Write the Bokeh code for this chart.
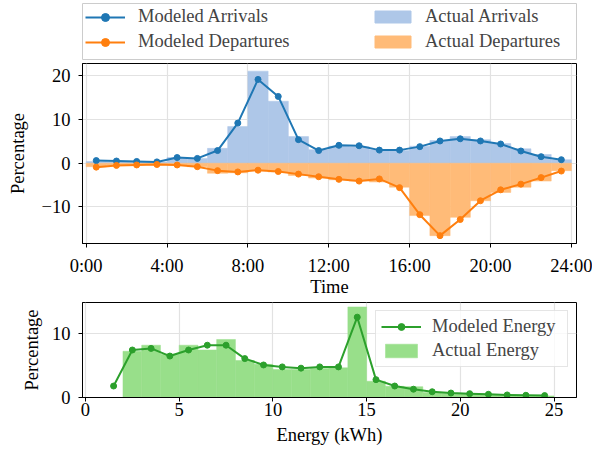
from bokeh.plotting import figure
from bokeh.models import Legend, LegendItem, FixedTicker, Range1d
from bokeh.layouts import column
from bokeh.embed import file_html
from bokeh.resources import INLINE

FONT = "Liberation Serif"
FS = "18.5px"
NAN = float("nan")

# ---------------- data ----------------
hour_mid = [0.5, 1.5, 2.5, 3.5, 4.5, 5.5, 6.5, 7.5, 8.5, 9.5, 10.5, 11.5,
            12.5, 13.5, 14.5, 15.5, 16.5, 17.5, 18.5, 19.5, 20.5, 21.5, 22.5, 23.5]
arr_model = [0.6, 0.5, 0.4, 0.3, 1.3, 1.1, 2.9, 9.2, 19.2, 15.3, 5.4, 2.9,
             4.1, 4.0, 3.0, 3.0, 3.8, 5.1, 5.6, 5.1, 4.4, 2.8, 1.5, 0.8]
dep_model = [-0.9, -0.5, -0.4, -0.3, -0.4, -0.8, -1.7, -2.0, -1.6, -1.9, -2.5, -3.1,
             -3.7, -4.1, -3.6, -5.6, -11.8, -16.6, -12.9, -8.6, -6.1, -4.8, -3.3, -1.8]
arr_actual = [0.4, 0.3, 0.3, 0.3, 1.3, 1.1, 3.4, 8.4, 21.1, 14.2, 6.1, 3.1,
              3.9, 3.8, 3.1, 2.9, 3.9, 5.2, 6.1, 5.4, 4.5, 3.3, 2.0, 0.8]
dep_actual = [-0.8, -0.5, -0.4, -0.4, -0.5, -0.8, -2.3, -2.2, -1.7, -2.0, -2.8, -3.4,
              -3.8, -4.1, -4.3, -5.5, -12.0, -16.6, -12.4, -8.6, -6.7, -5.5, -4.1, -1.7]
time_ticks = [0, 4, 8, 12, 16, 20, 24]
time_labels = ["0:00", "4:00", "8:00", "12:00", "16:00", "20:00", "24:00"]
pct_ticks_top = [-10, 0, 10, 20]
pct_labels_top = ["\u221210", "0", "10", "20"]

energy_model_x = [1.5, 2.5, 3.5, 4.5, 5.5, 6.5, 7.5, 8.5, 9.5, 10.5, 11.5, 12.5,
                  13.5, 14.5, 15.5, 16.5, 17.5, 18.5, 19.5, 20.5, 21.5, 22.5, 23.5, 24.5]
energy_model = [1.8, 7.45, 7.7, 6.5, 7.45, 8.2, 8.2, 6.1, 5.1, 4.8, 4.6, 4.8,
                4.8, 12.6, 2.8, 1.8, 1.3, 0.9, 0.7, 0.6, 0.5, 0.4, 0.35, 0.3]
energy_bin_mid = [2.5, 3.5, 4.5, 5.5, 6.5, 7.5, 8.5, 9.5, 10.5, 11.5, 12.5, 13.5,
                  14.5, 15.5, 16.5, 17.5, 18.5, 19.5, 20.5, 21.5, 22.5, 23.5, 24.5]
energy_actual = [7.25, 8.2, 6.8, 8.2, 7.45, 9.1, 5.8, 5.2, 4.4, 4.4, 4.55, 4.65,
                 14.2, 2.55, 1.75, 1.7, 0.8, 0.65, 0.55, 0.45, 0.35, 0.3, 0.25]
energy_ticks = [0, 5, 10, 15, 20, 25]
pct_ticks_bot = [0, 10]

C_ARR, C_DEP, C_EN = "#1f77b4", "#ff7f0e", "#2ca02c"
C_ARR_L, C_DEP_L, C_EN_L = "#aec7e8", "#ffbb78", "#98df8a"


def style(p):
    p.outline_line_color = "black"
    p.outline_line_width = 1
    p.background_fill_color = "white"
    p.border_fill_color = "white"
    for ax in p.axis:
        ax.major_label_text_font = FONT
        ax.major_label_text_font_size = FS
        ax.major_label_text_color = "black"
        ax.axis_label_text_font = FONT
        ax.axis_label_text_font_size = FS
        ax.axis_label_text_font_style = "normal"
        ax.axis_label_text_color = "black"
        ax.major_tick_out = 4
        ax.major_tick_in = 0
        ax.minor_tick_out = 0
        ax.minor_tick_in = 0
        ax.axis_line_color = "black"
        ax.major_tick_line_color = "black"
    p.grid.grid_line_color = "#e2e2e2"
    p.grid.grid_line_width = 1.2


# ---------------- legend strip ----------------
leg = figure(width=592, height=60, x_range=Range1d(0, 1), y_range=Range1d(0, 1),
             toolbar_location=None, output_backend="svg",
             x_axis_location=None, y_axis_location=None,
             min_border_left=82, min_border_right=15, min_border_top=3, min_border_bottom=1)
leg.grid.visible = False
leg.outline_line_color = "#cccccc"
leg.border_fill_color = "white"
# legend proxies (no drawable data, only their legend glyphs show)
px = [NAN]
py = [NAN]
pl_a = leg.line(px, py, color=C_ARR, line_width=2)
ps_a = leg.scatter(px, py, color=C_ARR, size=6)
pl_d = leg.line(px, py, color=C_DEP, line_width=2)
ps_d = leg.scatter(px, py, color=C_DEP, size=6)
pb_a = leg.vbar(x=px, top=py, width=1, color=C_ARR_L)
pb_d = leg.vbar(x=px, top=py, width=1, color=C_DEP_L)

common = dict(padding=0, margin=0, border_line_alpha=0, background_fill_alpha=0,
              label_text_font=FONT, label_text_font_size=FS, label_height=20, spacing=4)
l1 = Legend(items=[LegendItem(label="Modeled Arrivals", renderers=[pl_a, ps_a]),
                   LegendItem(label="Modeled Departures", renderers=[pl_d, ps_d])],
            location=(3, 7), glyph_width=40, glyph_height=20, label_standoff=13, **common)
l2 = Legend(items=[LegendItem(label="Actual Arrivals", renderers=[pb_a]),
                   LegendItem(label="Actual Departures", renderers=[pb_d])],
            location=(288, 7), glyph_width=45, glyph_height=15, label_standoff=10, **common)
leg.add_layout(l1)
leg.add_layout(l2)

# ---------------- top: arrivals / departures ----------------
top = figure(width=592, height=240, x_range=Range1d(-0.18, 24.25), y_range=Range1d(-18.4, 22.85),
             toolbar_location=None, output_backend="svg",
             min_border_left=80, min_border_right=16, min_border_top=3, min_border_bottom=57)
top.vbar(x=hour_mid, top=arr_actual, bottom=0, width=1, fill_color=C_ARR_L,
         line_color=C_ARR_L, line_width=0.5)
top.vbar(x=hour_mid, top=dep_actual, bottom=0, width=1, fill_color=C_DEP_L,
         line_color=C_DEP_L, line_width=0.5)
top.line(hour_mid, arr_model, color=C_ARR, line_width=2)
top.scatter(hour_mid, arr_model, color=C_ARR, size=6)
top.line(hour_mid, dep_model, color=C_DEP, line_width=2)
top.scatter(hour_mid, dep_model, color=C_DEP, size=6)
top.xaxis.ticker = FixedTicker(ticks=time_ticks)
top.xaxis.major_label_overrides = dict(zip(time_ticks, time_labels))
top.yaxis.ticker = FixedTicker(ticks=pct_ticks_top)
top.yaxis.major_label_overrides = dict(zip(pct_ticks_top, pct_labels_top))
top.xaxis.axis_label = "Time"
top.yaxis.axis_label = "Percentage"
style(top)
top.xaxis.major_label_standoff = 8
top.xaxis.axis_label_standoff = -2
top.yaxis.major_label_standoff = 8
top.yaxis.axis_label_standoff = 11

# ---------------- bottom: energy ----------------
bot = figure(width=592, height=157, x_range=Range1d(-0.16, 26.2), y_range=Range1d(0, 14.9),
             toolbar_location=None, output_backend="svg",
             min_border_left=80, min_border_right=16, min_border_top=2, min_border_bottom=60)
eb = bot.vbar(x=energy_bin_mid, top=energy_actual, bottom=0, width=1, fill_color=C_EN_L,
              line_color=C_EN_L, line_width=0.5)
el = bot.line(energy_model_x, energy_model, color=C_EN, line_width=2)
es = bot.scatter(energy_model_x, energy_model, color=C_EN, size=6)
bot.xaxis.ticker = FixedTicker(ticks=energy_ticks)
bot.yaxis.ticker = FixedTicker(ticks=pct_ticks_bot)
bot.xaxis.axis_label = "Energy (kWh)"
bot.yaxis.axis_label = "Percentage"
style(bot)
bot.xaxis.major_label_standoff = 1
bot.xaxis.axis_label_standoff = 6
bot.yaxis.major_label_standoff = 8
bot.yaxis.axis_label_standoff = 7
l3 = Legend(items=[LegendItem(label="Modeled Energy", renderers=[el, es]),
                   LegendItem(label="Actual Energy", renderers=[eb])],
            location="top_right", margin=8, padding=5, spacing=3,
            glyph_width=40, glyph_height=17, label_height=20, label_width=130,
            label_standoff=11,
            border_line_color="#cccccc", border_line_width=1,
            background_fill_color="white", background_fill_alpha=0.8,
            label_text_font=FONT, label_text_font_size=FS)
bot.add_layout(l3)

layout = column(leg, top, bot)
open("out.html", "w").write(file_html(layout, INLINE))
